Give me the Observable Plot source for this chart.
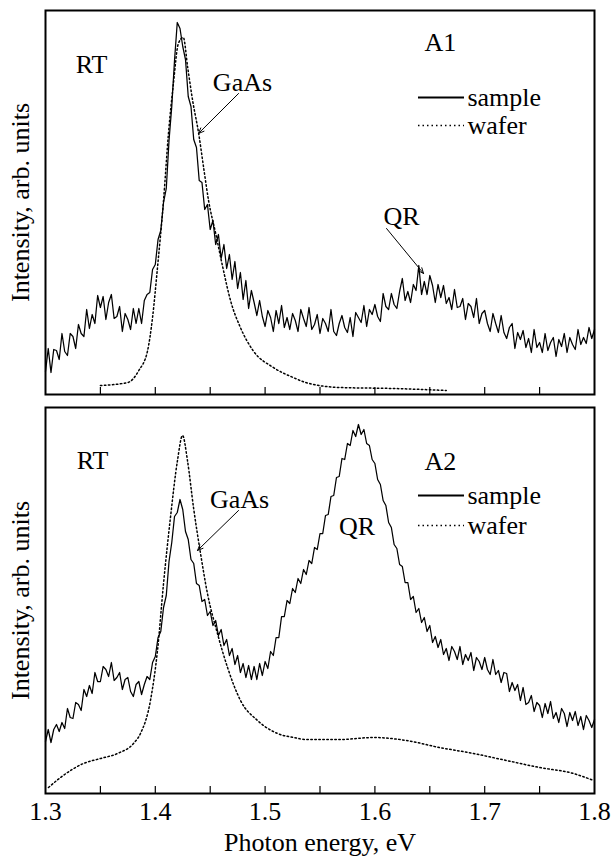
<!DOCTYPE html>
<html><head><meta charset="utf-8">
<script src="https://cdn.jsdelivr.net/npm/d3@7"></script>
<script src="https://cdn.jsdelivr.net/npm/@observablehq/plot@0.6"></script>
<style>body{margin:0;background:#fff} #chart{width:612px} svg{display:block} svg text{font-family:'Liberation Serif','Times New Roman',serif !important}</style>
</head><body><div id="chart"></div>
<script>
// Photon energy grid for the measured (noisy) sample spectra
const energyStart = 1.3, energyStep = 0.0025;

// A1 sample PL intensity (arb. units), one value per grid step 1.300..1.800
const sampleA1 = [
 23,46,22,45,44,35,61,43,39,61,
 58,46,70,61,58,85,66,80,71,99,
 87,98,75,92,100,76,78,88,63,81,
 75,65,86,71,86,71,94,100,102,125,
 130,155,164,192,206,254,288,334,372,366,
 348,335,298,288,255,247,214,212,185,190,
 165,174,150,160,136,150,126,140,115,133,
 106,122,95,114,86,104,92,79,94,78,
 68,84,77,63,84,71,89,67,77,65,
 81,74,63,85,76,68,87,65,70,80,
 61,76,71,63,85,63,59,71,79,67,
 62,77,58,82,77,72,89,68,85,80,
 90,78,73,101,88,85,101,90,86,103,
 116,94,103,92,110,104,129,100,113,100,
 119,109,92,110,97,109,91,97,85,105,
 87,88,96,75,91,88,77,96,71,81,
 84,71,63,81,71,62,79,62,56,67,
 71,46,62,55,64,47,56,42,65,47,
 52,42,61,44,52,57,38,55,48,61,
 42,57,50,45,65,50,57,51,67,56,65];

// A2 sample PL intensity (arb. units)
const sampleA2 = [
 52,64,51,64,69,62,71,65,85,76,
 75,91,89,83,104,97,108,100,121,112,
 112,127,124,117,131,113,116,121,104,114,
 116,102,97,109,112,99,109,117,114,131,
 137,156,162,186,198,232,251,277,281,294,
 284,262,254,234,230,210,208,192,194,178,
 182,168,173,158,164,148,154,138,145,129,
 138,121,130,116,128,114,127,114,130,118,
 132,125,142,138,156,156,177,177,193,190,
 205,201,215,210,224,219,233,230,246,244,
 260,260,278,279,297,298,316,317,335,334,
 350,348,363,357,369,359,364,350,348,334,
 330,314,309,293,288,271,266,249,245,229,
 227,211,211,194,197,181,185,171,176,162,
 168,151,157,146,154,139,145,133,147,142,
 134,147,129,139,133,141,123,136,132,124,
 136,124,119,134,119,123,111,121,120,102,
 111,103,109,93,106,89,91,98,82,91,
 88,76,90,80,92,75,81,71,85,80,
 67,81,73,82,68,77,64,78,73,66,74];

// Wafer reference spectra (smooth)
const waferA1Energy = [1.350,1.375,1.385,1.393,1.3975,1.402,1.4075,1.412,1.4165,1.421,1.4255,1.4295,1.434,1.4395,1.444,1.4485,1.455,1.4615,1.4685,1.4775,1.489,1.5075,1.5255,1.537,1.568,1.617,1.665];
const waferA1Value  = [9,12,24,44,77,127,194,261,311,351,357,327,294,261,227,194,161,127,94,67,44,27,17,12,7,6,4];
const waferA2Energy = [1.3027,1.3137,1.3346,1.350,1.3656,1.3801,1.3865,1.3956,1.402,1.4075,1.4138,1.4202,1.4248,1.4293,1.4348,1.4412,1.4475,1.4566,1.4658,1.4776,1.4931,1.5113,1.5259,1.5377,1.5678,1.5987,1.6288,1.6588,1.6898,1.7199,1.7499,1.7809,1.7991];
const waferA2Value  = [6,16,30,35,40,50,60,93,143,210,276,333,358,333,286,240,200,160,126,93,73,60,56,54,54,56,53,46,40,33,26,20,13];

// Axis ticks
const majorTicks = [1.3,1.4,1.5,1.6,1.7,1.8];
const minorTicks = [1.35,1.4,1.45,1.5,1.55,1.6,1.65,1.7,1.75];
const xLabel = "Photon energy, eV";
const yLabel = "Intensity, arb. units";

// Annotations
const labelsA1 = [{t:"RT",e:1.3419,v:330},{t:"GaAs",e:1.4794,v:312},{t:"A1",e:1.6597,v:352},{t:"QR",e:1.6242,v:178}];
const arrowsA1 = [{e1:1.4758,v1:301,e2:1.4393,v2:261},{e1:1.6106,v1:166,e2:1.6443,v2:121}];
const legendA1 = [{t:"sample",v:297,dash:null},{t:"wafer",v:269,dash:"1.5 3"}];
const labelsA2 = [{t:"RT",e:1.3428,v:333},{t:"GaAs",e:1.4767,v:294},{t:"A2",e:1.6597,v:332},{t:"QR",e:1.5837,v:267}];
const arrowsA2 = [{e1:1.4758,v1:283,e2:1.4384,v2:243}];
const legendA2 = [{t:"sample",v:298,dash:null},{t:"wafer",v:268,dash:"1.5 3"}];
const legendX1 = 1.6397, legendX2 = 1.6816, legendTextX = 1.6843;

const font = "'Liberation Serif','Times New Roman',serif";
const fs = 26;

function panel({sample, waferE, waferV, labels, arrows, legend, height, marginTop, marginBottom, yMax, bottomAxis}) {
  const sData = sample.map((v,i)=>({e: energyStart + i*energyStep, v}));
  const wData = waferE.map((e,i)=>({e, v: waferV[i]}));
  const frameH = height - marginTop - marginBottom;
  const marks = [
    Plot.line(wData, {x:"e", y:"v", stroke:"black", strokeWidth:1.5, strokeDasharray:"1.5 2.5", curve:"monotone-x"}),
    Plot.line(sData, {x:"e", y:"v", stroke:"black", strokeWidth:1.25}),
    Plot.tickX(minorTicks, {x:d=>d, insetTop: frameH-7, stroke:"black", strokeWidth:1.2}),
    Plot.frame({stroke:"black", strokeWidth:2}),
    Plot.text(labels, {x:"e", y:"v", text:"t", fontSize:fs, textAnchor:"middle", fill:"black"}),
    Plot.arrow(arrows, {x1:"e1", y1:"v1", x2:"e2", y2:"v2", stroke:"black", strokeWidth:1, headLength:9, headAngle:45}),
    Plot.ruleY(legend.filter(d=>!d.dash), {y:"v", x1:legendX1, x2:legendX2, stroke:"black", strokeWidth:2}),
    Plot.ruleY(legend.filter(d=>d.dash), {y:"v", x1:legendX1, x2:legendX2, stroke:"black", strokeWidth:1.5, strokeDasharray:"1.5 3"}),
    Plot.text(legend, {x:legendTextX, y:"v", text:"t", fontSize:fs, textAnchor:"start", fill:"black"}),
    Plot.text([yLabel], {frameAnchor:"left", textAnchor:"middle", lineAnchor:"middle", rotate:-90, dx:-25, fontSize:fs, fill:"black"})
  ];
  if (bottomAxis) {
    marks.push(Plot.axisX(majorTicks, {tickSize:0, tickPadding:8, fontSize:fs, label:null, tickFormat:d=>d.toFixed(1), fill:"black"}));
    marks.push(Plot.text([xLabel], {frameAnchor:"bottom", textAnchor:"middle", lineAnchor:"bottom", dy:57, fontSize:fs, fill:"black"}));
  }
  return Plot.plot({
    width:612, height, marginLeft:45, marginRight:18, marginTop, marginBottom,
    x:{domain:[1.3,1.8], ...(bottomAxis ? {} : {axis:null})},
    y:{domain:[0,yMax], axis:null},
    style:{fontFamily:font, fontSize:fs+"px", color:"black", background:"white", overflow:"visible"},
    marks
  });
}

const chart = document.getElementById("chart");
chart.appendChild(panel({sample:sampleA1, waferE:waferA1Energy, waferV:waferA1Value, labels:labelsA1, arrows:arrowsA1, legend:legendA1,
  height:397, marginTop:10, marginBottom:3, yMax:384, bottomAxis:false}));
chart.appendChild(panel({sample:sampleA2, waferE:waferA2Energy, waferV:waferA2Value, labels:labelsA2, arrows:arrowsA2, legend:legendA2,
  height:460, marginTop:10, marginBottom:64, yMax:386, bottomAxis:true}));
</script>
</body></html>
